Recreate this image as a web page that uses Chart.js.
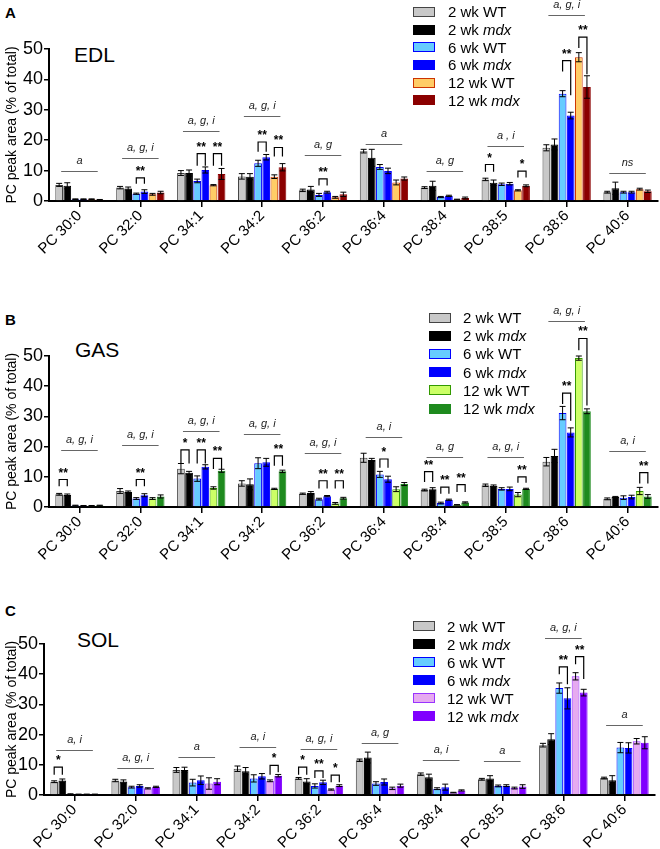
<!DOCTYPE html>
<html>
<head>
<meta charset="utf-8">
<script src="https://cdn.jsdelivr.net/npm/chart.js@4.4.1/dist/chart.umd.min.js"></script>
<style>
  body { margin: 0; background: #fff; width: 660px; height: 849px; position: relative; overflow: hidden;
         font-family: "Liberation Sans", Arial, sans-serif; color: #000; }
  canvas { position: absolute; left: 0; }
  .letter { position: absolute; font-weight: bold; font-size: 15px; line-height: 15px; }
  .title { position: absolute; font-size: 21px; line-height: 21px; }
  .row { position: absolute; font-size: 15px; line-height: 15px; white-space: nowrap; }
  .sw { position: absolute; width: 20px; height: 8px; border: 1.5px solid; }
</style>
</head>
<body>
<div class="letter" style="left:5px;top:5px">A</div>
<div class="letter" style="left:5px;top:312px">B</div>
<div class="letter" style="left:5px;top:603px">C</div>
<div class="title" style="left:74px;top:44px">EDL</div>
<div class="title" style="left:75px;top:339px">GAS</div>
<div class="title" style="left:77px;top:629px">SOL</div>
<canvas id="cA" width="660" height="285" style="top:0px"></canvas>
<canvas id="cB" width="660" height="290" style="top:285px"></canvas>
<canvas id="cC" width="660" height="274" style="top:575px"></canvas>
<div id="legA"></div><div id="legB"></div><div id="legC"></div>
<script>
const CATEGORIES = ['PC 30:0', 'PC 32:0', 'PC 34:1', 'PC 34:2', 'PC 36:2',
                    'PC 36:4', 'PC 38:4', 'PC 38:5', 'PC 38:6', 'PC 40:6'];
const AGES = ['2 wk', '2 wk', '6 wk', '6 wk', '12 wk', '12 wk'];
const GENOTYPES = ['WT', 'mdx', 'WT', 'mdx', 'WT', 'mdx'];

// rows: 2 wk WT, 2 wk mdx, 6 wk WT, 6 wk mdx, 12 wk WT, 12 wk mdx
const EDL_MEAN = [
  [5.3, 4.4, 9.2, 8.1, 3.5, 16.4, 4.4, 7.1, 17.5, 2.9],
  [5.0, 4.1, 9.2, 8.0, 3.8, 14.2, 5.0, 6.0, 18.6, 4.2],
  [0.6, 2.4, 6.6, 12.4, 2.0, 11.2, 1.3, 5.5, 35.3, 2.9],
  [0.6, 3.1, 10.2, 14.4, 2.9, 9.9, 1.7, 5.7, 28.1, 2.9],
  [0.6, 2.2, 5.2, 8.0, 1.2, 6.1, 0.5, 3.5, 47.3, 3.9],
  [0.4, 2.8, 8.9, 11.1, 2.2, 7.4, 1.0, 5.0, 37.5, 3.2],
];
const EDL_SEM = [
  [0.5, 0.4, 0.8, 0.9, 0.4, 0.6, 0.3, 0.4, 1.0, 0.3],
  [1.0, 0.5, 1.0, 1.0, 1.0, 2.8, 1.5, 0.9, 1.8, 2.0],
  [0.1, 0.2, 0.6, 1.0, 0.5, 0.8, 0.2, 0.4, 1.0, 0.3],
  [0.1, 0.6, 1.0, 0.9, 0.3, 0.9, 0.2, 0.4, 1.1, 0.3],
  [0.1, 0.3, 0.2, 0.6, 0.3, 0.8, 0.1, 0.2, 1.5, 0.3],
  [0.1, 0.4, 1.8, 1.2, 0.7, 0.5, 0.3, 0.3, 3.7, 0.4],
];
const GAS_MEAN = [
  [4.2, 5.3, 12.7, 7.8, 4.4, 16.3, 5.6, 7.2, 15.0, 2.7],
  [4.0, 5.0, 11.3, 7.5, 4.6, 15.6, 5.9, 7.0, 16.9, 3.3],
  [0.5, 2.8, 9.4, 14.5, 2.6, 10.8, 1.3, 6.0, 31.1, 3.1],
  [0.4, 3.9, 13.3, 14.8, 3.6, 9.2, 2.4, 6.0, 24.7, 3.3],
  [0.4, 2.8, 6.3, 6.0, 1.2, 5.9, 0.7, 4.1, 49.3, 5.3],
  [0.5, 3.5, 12.0, 11.8, 2.9, 7.6, 1.5, 6.0, 31.7, 3.5],
];
const GAS_SEM = [
  [0.3, 0.8, 1.7, 0.9, 0.2, 1.5, 0.3, 0.4, 1.4, 0.3],
  [0.3, 0.3, 0.5, 1.8, 0.5, 0.5, 0.5, 0.3, 2.2, 0.2],
  [0.1, 0.3, 0.9, 1.8, 0.3, 1.0, 0.3, 0.4, 2.2, 0.6],
  [0.1, 0.5, 0.7, 1.3, 0.2, 1.0, 0.2, 0.6, 1.5, 0.6],
  [0.1, 0.3, 0.4, 0.2, 0.3, 0.8, 0.1, 0.7, 0.7, 1.2],
  [0.1, 0.5, 0.5, 0.4, 0.3, 0.5, 0.2, 0.2, 0.8, 0.6],
];
const SOL_MEAN = [
  [4.4, 4.8, 8.3, 8.7, 5.5, 11.5, 6.9, 5.2, 16.5, 5.6],
  [4.8, 4.5, 8.3, 7.9, 4.5, 12.4, 5.9, 5.5, 18.5, 4.9],
  [0.3, 2.6, 4.1, 5.5, 3.0, 3.8, 2.1, 3.0, 35.4, 15.7],
  [0.2, 3.0, 4.9, 6.2, 4.2, 4.3, 2.6, 3.1, 32.0, 15.6],
  [0.2, 2.2, 3.8, 4.7, 1.8, 2.2, 0.8, 2.3, 39.3, 17.8],
  [0.2, 2.7, 4.4, 6.4, 3.1, 3.1, 1.5, 2.8, 33.9, 17.3],
];
const SOL_SEM = [
  [0.3, 0.4, 0.8, 0.9, 0.3, 0.4, 0.4, 0.3, 0.6, 0.3],
  [0.5, 0.5, 0.9, 1.2, 0.9, 1.8, 1.0, 0.9, 1.8, 1.5],
  [0.1, 0.3, 1.1, 1.2, 0.7, 0.6, 0.3, 0.3, 1.7, 1.7],
  [0.1, 0.4, 1.4, 0.9, 0.7, 1.0, 1.0, 0.3, 3.5, 1.7],
  [0.1, 0.2, 1.9, 0.3, 0.2, 0.4, 0.1, 0.3, 1.2, 0.9],
  [0.1, 0.2, 1.0, 0.4, 0.3, 0.5, 0.2, 0.6, 1.1, 2.0],
];

// two-way ANOVA labels over each lipid, and the height of their line
const EDL_SIG_TEXT = ['a', 'a, g, i', 'a, g, i', 'a, g, i', 'a, g', 'a', 'a, g', 'a , i', 'a, g, i', 'ns'];
const EDL_SIG_Y = [10, 14.2, 22.9, 28.1, 15.2, 18.8, 9.8, 18.1, 61.1, 9.2];
const GAS_SIG_TEXT = ['a, g, i', 'a, g, i', 'a, g, i', 'a, g, i', 'a, g, i', 'a, i', 'a, g', 'a, g, i', 'a, g, i', 'a, i'];
const GAS_SIG_Y = [18.9, 20.4, 25.3, 24.3, 17.8, 23.3, 16.5, 16.5, 61.7, 18.6];
const SOL_SIG_TEXT = ['a, i', 'a, g, i', 'a', 'a, i', 'a, g, i', 'a, g', 'a, i', 'a', 'a, g, i', 'a'];
const SOL_SIG_Y = [14.8, 9.1, 12.7, 16.0, 15.3, 17.1, 11.6, 11.4, 52.1, 23.3];

// post-hoc brackets: [lipid, bar, bar, top, left leg end, right leg end, mark]
const EDL_PAIRS = [
  [1, 2, 3, 7.6, 5.7, 5.7, '**'], [2, 2, 3, 15.6, 11.6, 11.6, '**'], [2, 4, 5, 15.6, 11.6, 11.6, '**'],
  [3, 2, 3, 19.4, 16.2, 16.2, '**'], [3, 4, 5, 17.6, 14.6, 14.6, '**'], [4, 2, 3, 7.3, 5.1, 5.1, '**'],
  [7, 0, 1, 12.0, 9.6, 9.6, '*'], [7, 4, 5, 9.8, 7.7, 7.7, '*'],
  [8, 2, 3, 46.2, 42.6, 34.8, '**'], [8, 4, 5, 53.9, 50.3, 41.7, '**'],
];
const GAS_PAIRS = [
  [0, 0, 1, 9.1, 6.9, 6.9, '**'], [1, 2, 3, 9.1, 6.9, 6.9, '**'],
  [2, 0, 1, 18.9, 14.4, 14.4, '*'], [2, 2, 3, 18.9, 14.4, 14.4, '**'], [2, 4, 5, 16.1, 12.6, 12.6, '**'],
  [3, 4, 5, 16.9, 13.7, 13.7, '**'], [4, 2, 3, 8.7, 6.1, 6.1, '**'], [4, 4, 5, 8.7, 6.1, 6.1, '**'],
  [5, 2, 3, 15.9, 13.0, 13.0, '*'], [6, 0, 1, 11.7, 8.3, 8.3, '**'], [6, 2, 3, 6.6, 4.4, 4.4, '**'],
  [6, 4, 5, 7.4, 5.0, 5.0, '**'], [7, 4, 5, 10.0, 8.0, 8.0, '**'],
  [8, 2, 3, 37.7, 34.1, 28.6, '**'], [8, 4, 5, 55.8, 51.9, 33.6, '**'], [9, 4, 5, 11.4, 7.8, 7.8, '**'],
];
const SOL_PAIRS = [
  [0, 0, 1, 9.2, 6.7, 6.7, '*'], [3, 4, 5, 9.8, 6.7, 7.5, '*'],
  [4, 0, 1, 9.2, 6.7, 6.7, '*'], [4, 2, 3, 8.0, 5.6, 5.6, '**'], [4, 4, 5, 6.6, 4.2, 4.2, '*'],
  [8, 2, 3, 42.4, 40.0, 36.7, '**'], [8, 4, 5, 45.8, 43.3, 38.4, '**'],
];

const FILL_A = ['#c8c8c8', '#000000', '#66ccff', '#0000ff', '#ffcc66', '#8b0000'];
const EDGE_A = ['#444444', '#000000', '#0000ff', '#0000ff', '#cc3300', '#8b0000'];
const FILL_B = ['#c8c8c8', '#000000', '#66ccff', '#0000ff', '#ccff66', '#1e8a1e'];
const EDGE_B = ['#444444', '#000000', '#0000ff', '#0000ff', '#339900', '#1e8a1e'];
const FILL_C = ['#c8c8c8', '#000000', '#66ccff', '#0000ff', '#e6aaf0', '#8000ff'];
const EDGE_C = ['#444444', '#000000', '#0000ff', '#0000ff', '#9933ff', '#8000ff'];

Chart.defaults.font.family = '"Liberation Sans", Arial, sans-serif';
Chart.defaults.color = '#000';

const annotate = {
  id: 'annotate',
  afterDatasetsDraw(chart, args, o) {
    const { ctx, scales: { x, y } } = chart;
    ctx.save();
    ctx.strokeStyle = '#000';
    ctx.lineWidth = 1;
    // error bars
    o.sem.forEach((row, d) => {
      const meta = chart.getDatasetMeta(d);
      row.forEach((e, i) => {
        const m = chart.data.datasets[d].data[i];
        const bx = meta.data[i].x;
        const yt = y.getPixelForValue(m + e);
        const yb = y.getPixelForValue(Math.max(m - e, 0));
        ctx.beginPath();
        ctx.moveTo(bx, yt); ctx.lineTo(bx, yb);
        ctx.moveTo(bx - 3, yt); ctx.lineTo(bx + 3, yt);
        ctx.moveTo(bx - 3, yb); ctx.lineTo(bx + 3, yb);
        ctx.stroke();
      });
    });
    // group lines with ANOVA text
    const step = x.getPixelForValue(1) - x.getPixelForValue(0);
    ctx.strokeStyle = '#666';
    ctx.fillStyle = '#222';
    ctx.font = 'italic 11px "Liberation Sans", Arial, sans-serif';
    ctx.textAlign = 'center';
    ctx.textBaseline = 'alphabetic';
    o.sigY.forEach((v, i) => {
      const cx = x.getPixelForValue(i), py = Math.round(y.getPixelForValue(v)) + 0.5;
      ctx.beginPath();
      ctx.moveTo(cx - step * 0.3, py); ctx.lineTo(cx + step * 0.3, py);
      ctx.stroke();
      ctx.fillText(o.sigText[i], cx, py - 8);
    });
    // brackets
    ctx.strokeStyle = '#000';
    ctx.fillStyle = '#000';
    ctx.lineWidth = 1.2;
    ctx.font = 'bold 12px "Liberation Sans", Arial, sans-serif';
    o.pairs.forEach(([c, a, b, top, la, lb, mark]) => {
      const xa = chart.getDatasetMeta(a).data[c].x;
      const xb = chart.getDatasetMeta(b).data[c].x;
      const pt = y.getPixelForValue(top);
      ctx.beginPath();
      ctx.moveTo(xa, y.getPixelForValue(la)); ctx.lineTo(xa, pt);
      ctx.lineTo(xb, pt); ctx.lineTo(xb, y.getPixelForValue(lb));
      ctx.stroke();
      ctx.fillText(mark, (xa + xb) / 2, pt - 3);
    });
    ctx.restore();
  }
};

function makeChart(id, means, sems, fill, edge, sigText, sigY, pairs, box) {
  return new Chart(document.getElementById(id), {
    type: 'bar',
    data: {
      labels: CATEGORIES,
      datasets: means.map((m, d) => ({
        label: AGES[d] + ' ' + GENOTYPES[d],
        data: m,
        backgroundColor: fill[d],
        borderColor: edge[d],
        borderWidth: 1,
        categoryPercentage: 0.8,
        barPercentage: 0.95,
      })),
    },
    options: {
      responsive: false,
      animation: false,
      layout: { padding: { top: box.top, right: box.right, left: 0, bottom: 0 } },
      plugins: {
        legend: { display: false },
        tooltip: { enabled: false },
        annotate: { sem: sems, sigText, sigY, pairs },
      },
      scales: {
        x: {
          grid: { display: true, drawOnChartArea: false, offset: false, color: '#000', tickLength: 6, lineWidth: 1.5 },
          border: { color: '#000', width: 2 },
          ticks: { font: { size: 15 }, maxRotation: 45, minRotation: 45, autoSkip: false, padding: 0 },
          afterFit: s => { s.height = box.xh; },
        },
        y: {
          min: 0, max: 50,
          grid: { display: true, drawOnChartArea: false, color: '#000', tickLength: 5, lineWidth: 1.5 },
          border: { color: '#000', width: 2 },
          ticks: { stepSize: 10, font: { size: 18 }, padding: 1 },
          title: { display: true, text: 'PC peak area (% of total)', font: { size: 14 }, padding: { top: 4, bottom: 0 } },
          afterFit: s => { s.width = box.yw; },
        },
      },
    },
    plugins: [annotate],
  });
}

function makeLegend(id, fill, edge, left, textLeft, top, step) {
  const host = document.getElementById(id);
  fill.forEach((f, d) => {
    const cy = top + step * d;
    const sw = document.createElement('div');
    sw.className = 'sw';
    sw.style.cssText = `left:${left}px;top:${cy - 5.5}px;background:${f};border-color:${edge[d]}`;
    host.appendChild(sw);
    const row = document.createElement('div');
    row.className = 'row';
    row.style.cssText = `left:${textLeft}px;top:${cy - 8}px`;
    row.innerHTML = AGES[d] + ' ' + (GENOTYPES[d] === 'mdx' ? '<i>mdx</i>' : GENOTYPES[d]);
    host.appendChild(row);
  });
}

makeChart('cA', EDL_MEAN, EDL_SEM, FILL_A, EDGE_A, EDL_SIG_TEXT, EDL_SIG_Y, EDL_PAIRS,
  { top: 49, right: 2, xh: 84, yw: 49 });
makeChart('cB', GAS_MEAN, GAS_SEM, FILL_B, EDGE_B, GAS_SIG_TEXT, GAS_SIG_Y, GAS_PAIRS,
  { top: 71, right: 2, xh: 68, yw: 49 });
makeChart('cC', SOL_MEAN, SOL_SEM, FILL_C, EDGE_C, SOL_SIG_TEXT, SOL_SIG_Y, SOL_PAIRS,
  { top: 69, right: 5, xh: 54, yw: 44 });

makeLegend('legA', FILL_A, EDGE_A, 413, 448, 12.3, 17.7);
makeLegend('legB', FILL_B, EDGE_B, 429, 463, 318, 18.2);
makeLegend('legC', FILL_C, EDGE_C, 413, 447, 626.7, 18);
</script>
</body>
</html>
